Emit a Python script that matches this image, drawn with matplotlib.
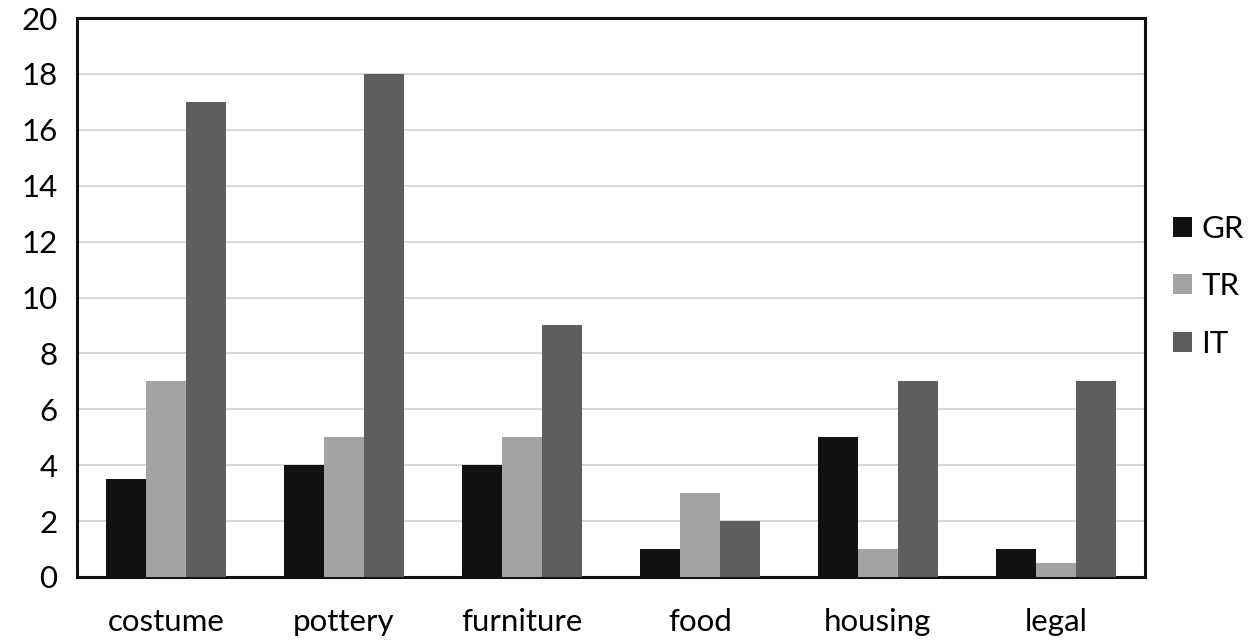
import matplotlib
matplotlib.use("Agg")
import matplotlib.pyplot as plt
import numpy as np

categories = ["costume", "pottery", "furniture", "food", "housing", "legal"]
series_names = ["GR", "TR", "IT"]
gr = [3.5, 4, 4, 1, 5, 1]
tr = [7, 5, 5, 3, 1, 0.5]
it = [17, 18, 9, 2, 7, 7]
colors = ["#111111", "#a3a3a3", "#5e5e5e"]
yticks = [0, 2, 4, 6, 8, 10, 12, 14, 16, 18, 20]

plt.rcParams['font.family'] = ['Lato', 'DejaVu Sans']
fig = plt.figure(figsize=(12.54, 6.4), dpi=100)
ax = fig.add_axes([77/1254, 1 - 577/640, (1145-77)/1254, (577-18)/640])

x = np.arange(len(categories))
w = 0.225
for i, (vals, c, name) in enumerate(zip([gr, tr, it], colors, series_names)):
    ax.bar(x + (i - 1) * w, vals, width=w, color=c, label=name, zorder=3)

ax.set_xlim(-0.5, len(categories) - 0.5)
ax.set_ylim(0, 20)
ax.set_yticks(yticks)
ax.set_xticks(x)
ax.set_xticklabels(categories)
ax.yaxis.grid(True, color="#cfcfcf", linewidth=1.2, zorder=0)
ax.tick_params(axis='both', length=0, labelsize=22.5)
ax.tick_params(axis='x', pad=22)
ax.tick_params(axis='y', pad=14)
for s in ax.spines.values():
    s.set_linewidth(2.2)
    s.set_color("#111111")

ax.legend(loc="center left", bbox_to_anchor=(1.0, 0.52), frameon=False,
          fontsize=22.5, handlelength=0.6, handleheight=0.6, handletextpad=0.3,
          labelspacing=0.95)

fig.savefig("out.png", dpi=100)
